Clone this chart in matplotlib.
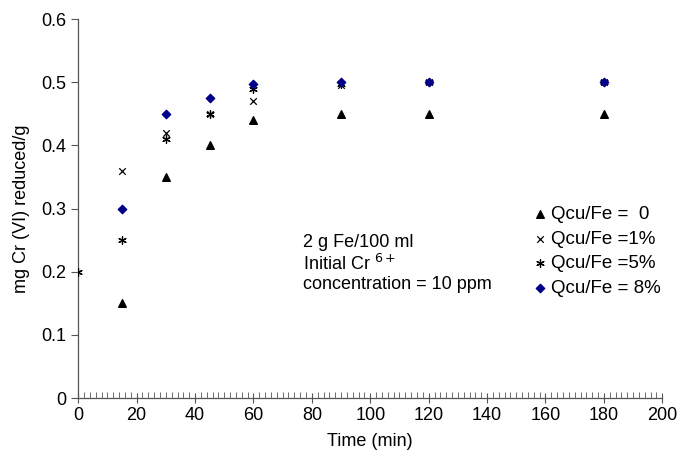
import matplotlib.pyplot as plt
from matplotlib.ticker import MultipleLocator

plt.rcParams['font.family'] = ['Liberation Sans', 'DejaVu Sans']

# reaction time (min)
t = [15, 30, 45, 60, 90, 120, 180]
t_5 = [0, 15, 30, 45, 60, 90, 120, 180]

q0 = [0.15, 0.35, 0.40, 0.44, 0.45, 0.45, 0.45]
q1 = [0.36, 0.42, 0.45, 0.47, 0.495, 0.50, 0.50]
q5 = [0.20, 0.25, 0.41, 0.45, 0.49, 0.497, 0.50, 0.50]
q8 = [0.30, 0.45, 0.475, 0.497, 0.50, 0.50, 0.50]

labels = ['Qcu/Fe =  0', 'Qcu/Fe =1%', 'Qcu/Fe =5%', 'Qcu/Fe = 8%']

fig, ax = plt.subplots(figsize=(6.8, 4.53), dpi=100)
fig.subplots_adjust(left=0.115, right=0.974, bottom=0.121, top=0.958)

ax.scatter(t, q0, marker='^', s=30, color='black', label=labels[0], zorder=3)
ax.scatter(t, q1, marker='x', s=22, color='black', linewidths=0.9, label=labels[1], zorder=3)
ax.scatter(t_5, q5, marker=(6, 2, 0), s=30, color='black', linewidths=0.9, label=labels[2], zorder=3)
ax.scatter(t, q8, marker='D', s=18, color='#00008b', label=labels[3], zorder=3)

ax.set_xlim(0, 200)
ax.set_ylim(0, 0.6)
ax.xaxis.set_major_locator(MultipleLocator(20))
ax.xaxis.set_minor_locator(MultipleLocator(2))
ax.set_yticks([0, 0.1, 0.2, 0.3, 0.4, 0.5, 0.6])
ax.set_yticklabels(['0', '0.1', '0.2', '0.3', '0.4', '0.5', '0.6'])

for s in ['top', 'right']:
    ax.spines[s].set_visible(False)
for s in ['left', 'bottom']:
    ax.spines[s].set_color('#555555')
    ax.spines[s].set_linewidth(0.9)

ax.tick_params(axis='x', which='major', direction='inout', length=7, width=0.8,
               color='#555555', labelsize=13, pad=3)
ax.tick_params(axis='x', which='minor', direction='in', length=4, width=0.6, color='#555555')
ax.tick_params(axis='y', which='major', direction='out', length=5, width=0.8,
               color='#555555', labelsize=13)

ax.set_xlabel('Time (min)', fontsize=13, labelpad=6)
ax.set_ylabel('mg Cr (VI) reduced/g', fontsize=13, labelpad=8)

ax.text(0.384, 0.432, '2 g Fe/100 ml\nInitial Cr $^{6+}$\nconcentration = 10 ppm',
        transform=ax.transAxes, fontsize=13, va='top', ha='left', linespacing=1.15)

ax.legend(loc='upper left', bbox_to_anchor=(0.762, 0.527), frameon=False, fontsize=13.5,
          handletextpad=0.1, handlelength=1.0, labelspacing=0.4, borderaxespad=0)

plt.savefig('out.png', dpi=100)
